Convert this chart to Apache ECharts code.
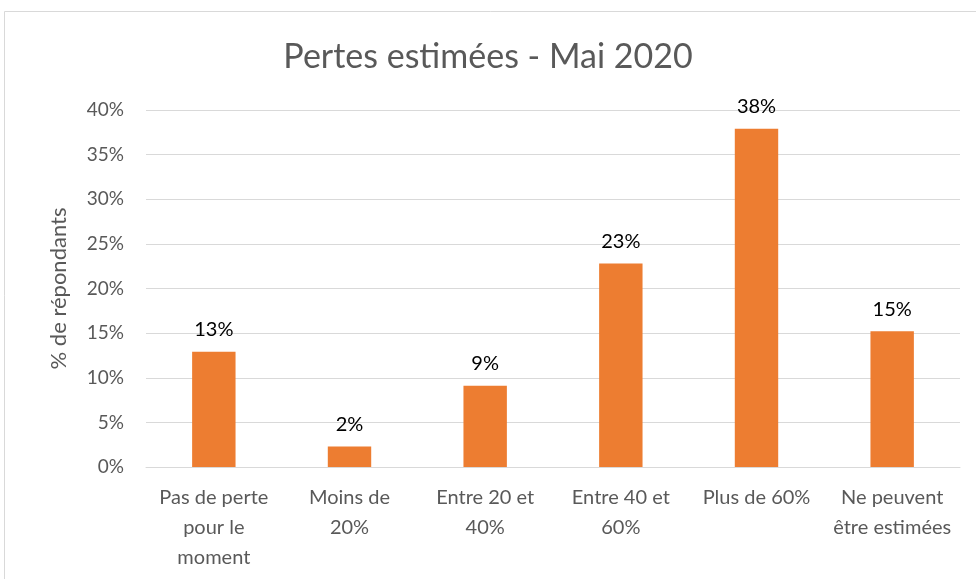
<!DOCTYPE html>
<html><head><meta charset="utf-8">
<script src="https://cdn.jsdelivr.net/npm/echarts@6/dist/echarts.min.js"></script>
<style>html,body{margin:0;padding:0;background:#fff}#c{width:976px;height:579px}</style>
</head><body><div id="c"></div>
<script>
const categories = ["Pas de perte\npour le\nmoment", "Moins de\n20%", "Entre 20 et\n40%", "Entre 40 et\n60%", "Plus de 60%", "Ne peuvent\nêtre estimées"];
const values = [12.9, 2.3, 9.1, 22.8, 37.9, 15.2];
const valueLabels = ["13%", "2%", "9%", "23%", "38%", "15%"];
const yTicks = [0, 5, 10, 15, 20, 25, 30, 35, 40];
const FONT = "Lato";
const chart = echarts.init(document.getElementById('c'), null, {renderer: 'canvas'});
chart.setOption({
  animation: false,
  backgroundColor: '#ffffff',
  textStyle: {fontFamily: FONT},
  graphic: [{type: 'rect', shape: {x: 4.5, y: 11.5, width: 980, height: 600}, style: {fill: 'none', stroke: '#d9d9d9', lineWidth: 1}, silent: true}],
  title: {text: 'Pertes estimées - Mai 2020', left: 'center', top: 35,
    textStyle: {fontFamily: FONT, fontSize: 34, fontWeight: 'normal', color: '#595959'}},
  grid: {left: 146, right: 16, top: 110, bottom: 112},
  xAxis: {type: 'category', data: categories,
    axisLine: {show: true, lineStyle: {color: '#d9d9d9', width: 1}},
    axisTick: {show: false},
    axisLabel: {interval: 0, color: '#595959', fontSize: 20, lineHeight: 30, margin: 16, fontFamily: FONT}},
  yAxis: {type: 'value', min: 0, max: 40, interval: 5,
    name: '% de répondants', nameLocation: 'middle', nameGap: 76, nameRotate: 90,
    nameTextStyle: {color: '#595959', fontSize: 22, fontFamily: FONT},
    axisLine: {show: false}, axisTick: {show: false},
    splitLine: {lineStyle: {color: '#d9d9d9', width: 1}},
    axisLabel: {color: '#595959', fontSize: 19, margin: 22, fontFamily: FONT,
      formatter: v => yTicks.includes(v) ? v + '%' : ''}},
  series: [{type: 'bar', data: values, barWidth: '32%',
    itemStyle: {color: '#ed7d31'},
    label: {show: true, position: 'top', distance: 12, color: '#000000', fontSize: 20, fontFamily: FONT,
      formatter: p => valueLabels[p.dataIndex]}}]
});
</script></body></html>
